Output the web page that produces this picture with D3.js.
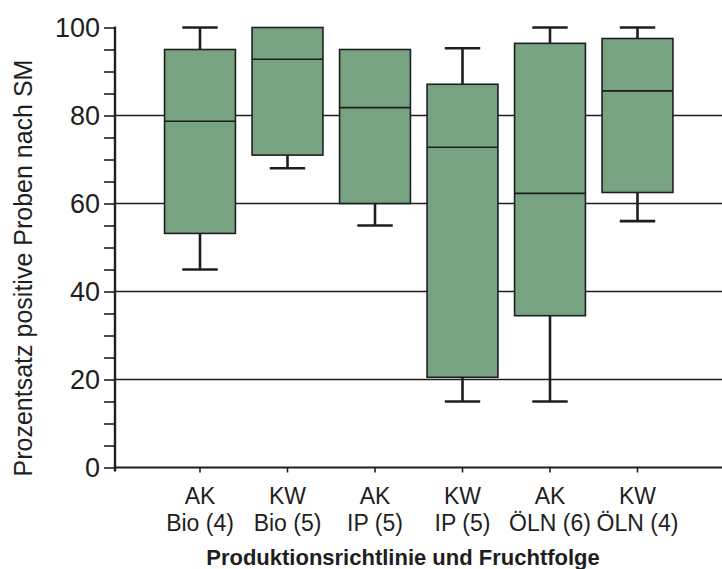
<!DOCTYPE html>
<html lang="de">
<head>
<meta charset="UTF-8">
<title>Prozentsatz positive Proben</title>
<style>
  body { margin: 0; padding: 0; background: #fff; }
  svg { display: block; font-family: "Liberation Sans", Arial, sans-serif; }
  .grid line { stroke: #1e1e1e; stroke-width: 1.6; }
  .box { fill: #77a382; stroke: #1e1e1e; stroke-width: 1.6; }
  .whisker { stroke: #1e1e1e; stroke-width: 2.6; }
</style>
<script src="https://d3js.org/d3.v7.min.js"></script>
</head>
<body>
<div id="chart"></div>
<script>
// categories (two label lines each)
const gruppe = ["AK", "KW", "AK", "KW", "AK", "KW"];
const richtlinie = ["Bio (4)", "Bio (5)", "IP (5)", "IP (5)", "ÖLN (6)", "ÖLN (4)"];
// five-number summaries
const minimum = [45, 68, 55, 15, 15, 56];
const q1 = [53.2, 71, 60, 20.5, 34.5, 62.5];
const median = [78.7, 92.8, 81.8, 72.8, 62.3, 85.6];
const q3 = [95, 100, 95, 87.1, 96.4, 97.5];
const maximum = [100, 100, 95, 95.3, 100, 100];
const yTicks = [0, 20, 40, 60, 80, 100];
const gridValues = [20, 40, 60, 80];

const width = 722, height = 569;
const svg = d3.select("#chart").append("svg")
  .attr("width", width).attr("height", height);

const y = d3.scaleLinear().domain([0, 100]).range([467.5, 27.5]);
const x = d3.scaleBand()
  .domain(d3.range(gruppe.length))
  .range([156.25, 681.25])
  .paddingInner(0.19)
  .paddingOuter(0.095);

const axisX = 115;

// gridlines behind boxes
svg.append("g").attr("class", "grid")
  .selectAll("line").data(gridValues).enter().append("line")
  .attr("x1", axisX).attr("x2", width)
  .attr("y1", d => y(d)).attr("y2", d => y(d));

// bottom axis line
svg.append("line")
  .attr("x1", axisX).attr("x2", width)
  .attr("y1", y(0)).attr("y2", y(0))
  .attr("stroke", "#1e1e1e").attr("stroke-width", 2.2);

// y axis
const yAxis = d3.axisLeft(y).tickValues(d3.range(0, 101, 5))
  .tickSize(11).tickPadding(4)
  .tickFormat(d => yTicks.includes(d) ? d : "");
const gy = svg.append("g").attr("transform", `translate(${axisX},0)`).call(yAxis);
gy.select(".domain").remove();
gy.selectAll(".tick line").attr("stroke", "#1e1e1e").attr("stroke-width", 1.6);
gy.selectAll(".tick text")
  .attr("font-size", 27).attr("fill", "#1e1e1e")
  .attr("font-family", "'Liberation Sans', Arial, sans-serif");
svg.append("line")
  .attr("x1", axisX).attr("x2", axisX)
  .attr("y1", y(100) - 1).attr("y2", y(0) + 4)
  .attr("stroke", "#1e1e1e").attr("stroke-width", 2.4);

// x ticks
svg.append("g").selectAll("line").data(gruppe).enter().append("line")
  .attr("x1", (d, i) => x(i) + x.bandwidth() / 2)
  .attr("x2", (d, i) => x(i) + x.bandwidth() / 2)
  .attr("y1", y(0)).attr("y2", y(0) + 5)
  .attr("stroke", "#1e1e1e").attr("stroke-width", 1.6);

// boxes
const bw = x.bandwidth();
const g = svg.append("g").selectAll("g").data(gruppe).enter().append("g")
  .attr("transform", (d, i) => `translate(${x(i)},0)`);

g.append("line").attr("class", "whisker")
  .attr("x1", bw / 2).attr("x2", bw / 2)
  .attr("y1", (d, i) => y(q3[i])).attr("y2", (d, i) => y(maximum[i]));
g.append("line").attr("class", "whisker")
  .attr("x1", bw / 2).attr("x2", bw / 2)
  .attr("y1", (d, i) => y(q1[i])).attr("y2", (d, i) => y(minimum[i]));
g.append("line").attr("class", "whisker")
  .attr("x1", bw / 4).attr("x2", bw * 3 / 4)
  .attr("y1", (d, i) => y(maximum[i])).attr("y2", (d, i) => y(maximum[i]))
  .attr("display", (d, i) => maximum[i] > q3[i] ? null : "none");
g.append("line").attr("class", "whisker")
  .attr("x1", bw / 4).attr("x2", bw * 3 / 4)
  .attr("y1", (d, i) => y(minimum[i])).attr("y2", (d, i) => y(minimum[i]));

g.append("rect").attr("class", "box")
  .attr("x", 0).attr("width", bw)
  .attr("y", (d, i) => y(q3[i]))
  .attr("height", (d, i) => y(q1[i]) - y(q3[i]));
g.append("line")
  .attr("x1", 0).attr("x2", bw)
  .attr("y1", (d, i) => y(median[i])).attr("y2", (d, i) => y(median[i]))
  .attr("stroke", "#1e1e1e").attr("stroke-width", 1.6);

// category labels
const lab = svg.append("g").selectAll("text").data(gruppe).enter().append("text")
  .attr("x", (d, i) => x(i) + bw / 2)
  .attr("text-anchor", "middle")
  .attr("font-size", 23).attr("fill", "#1e1e1e");
lab.append("tspan").attr("x", (d, i) => x(i) + bw / 2).attr("y", 504).text(d => d);
lab.append("tspan").attr("x", (d, i) => x(i) + bw / 2).attr("y", 531).text((d, i) => richtlinie[i]);

// axis titles
svg.append("text")
  .attr("x", 403).attr("y", 565)
  .attr("text-anchor", "middle")
  .attr("font-size", 22).attr("font-weight", "bold").attr("fill", "#1e1e1e")
  .text("Produktionsrichtlinie und Fruchtfolge");

svg.append("text")
  .attr("transform", "translate(32,268) rotate(-90)")
  .attr("text-anchor", "middle")
  .attr("font-size", 25).attr("fill", "#1e1e1e")
  .text("Prozentsatz positive Proben nach SM");
</script>
</body>
</html>
